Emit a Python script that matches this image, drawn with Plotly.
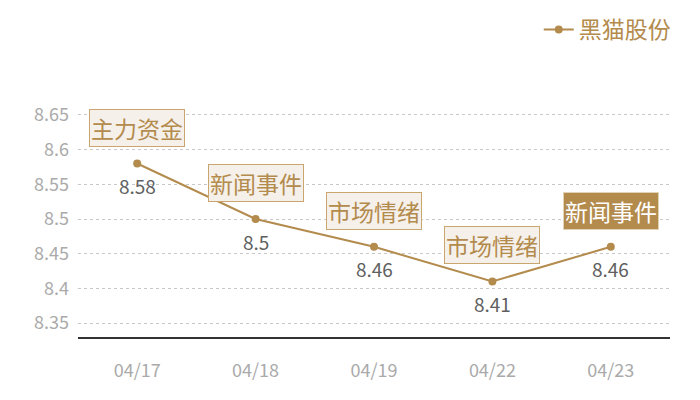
import plotly.graph_objects as go

dates = ["04/17", "04/18", "04/19", "04/22", "04/23"]
prices = [8.58, 8.5, 8.46, 8.41, 8.46]
value_labels = ["8.58", "8.5", "8.46", "8.41", "8.46"]
event_labels = ["主力资金", "新闻事件", "市场情绪", "市场情绪", "新闻事件"]
highlight = [False, False, False, False, True]
series_name = "黑猫股份"
y_ticks = [8.35, 8.4, 8.45, 8.5, 8.55, 8.6, 8.65]
y_tick_text = ["8.35", "8.4", "8.45", "8.5", "8.55", "8.6", "8.65"]

GOLD = "#b38b4d"
FONT = "Noto Sans CJK SC"

fig = go.Figure()
fig.add_trace(go.Scatter(
    x=dates, y=prices, mode="lines+markers", name=series_name,
    line=dict(color=GOLD, width=2),
    marker=dict(color=GOLD, size=8),
))

annotations = []
for d, p, v, ev, hl in zip(dates, prices, value_labels, event_labels, highlight):
    annotations.append(dict(
        x=d, y=p, xref="x", yref="y", text=v, showarrow=False,
        yshift=-22, font=dict(family=FONT, size=19, color="#606060"),
    ))
    annotations.append(dict(
        x=d, y=p, xref="x", yref="y", text=ev, showarrow=False,
        yshift=36,
        font=dict(family=FONT, size=23, color="#ffffff" if hl else GOLD),
        bgcolor=GOLD if hl else "#f5f0ea",
        bordercolor="#e2d3b6" if hl else "#c9a66e",
        borderwidth=1, borderpad=1,
    ))

fig.update_layout(
    width=692, height=392, autosize=False,
    margin=dict(l=70, r=30, t=100, b=63, autoexpand=False),
    paper_bgcolor="white", plot_bgcolor="white",
    font=dict(family=FONT),
    showlegend=True,
    legend=dict(
        orientation="h", xref="container", yref="container",
        x=0.767, xanchor="left", y=1.0, yanchor="top",
        font=dict(family=FONT, size=23, color=GOLD),
        bgcolor="rgba(0,0,0,0)", itemwidth=30, borderwidth=0,
        entrywidth=140, entrywidthmode="pixels",
    ),
    annotations=annotations,
    xaxis=dict(
        type="category", range=[-0.5, 4.5], showgrid=False, zeroline=False,
        showline=True, linecolor="#333333", linewidth=1.5,
        ticks="", tickfont=dict(family=FONT, size=18, color="#aaaaaa"),
        ticklabelstandoff=17,
    ),
    yaxis=dict(
        range=[8.33, 8.66], tickvals=y_ticks, ticktext=y_tick_text,
        showgrid=True, gridcolor="#c8c8c8", griddash="dot", gridwidth=1,
        zeroline=False, showline=False, ticks="",
        tickfont=dict(family=FONT, size=18, color="#aaaaaa"),
        ticklabelstandoff=8,
    ),
)

fig.write_html("out.html")
